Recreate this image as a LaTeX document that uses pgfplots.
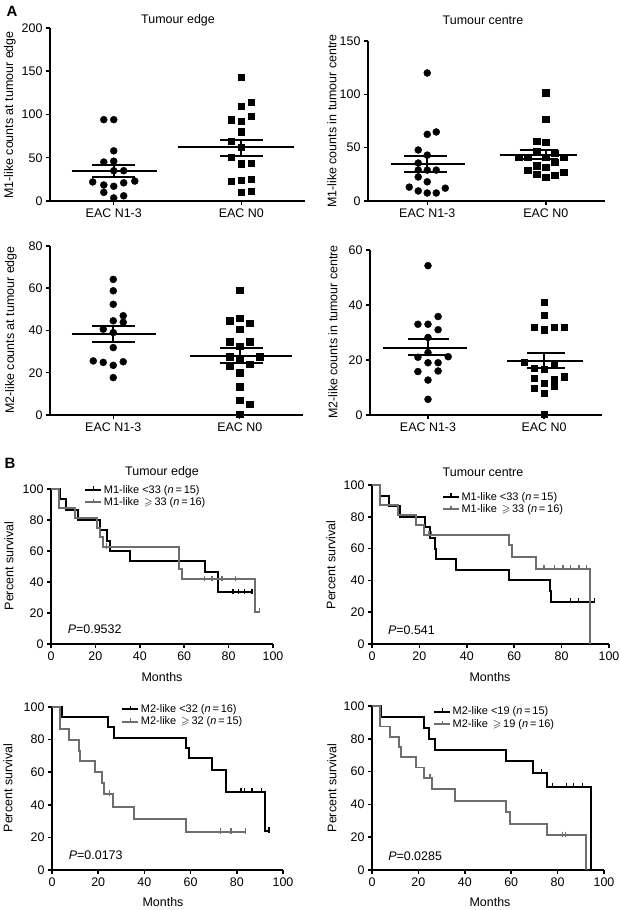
\documentclass[border=0pt]{standalone}
\usepackage{amssymb}
\usepackage{fontspec}
\setmainfont{Liberation Sans}
\usepackage{pgfplots}
\pgfplotsset{compat=1.18}
\definecolor{kmgray}{RGB}{110,110,110}
\newcommand{\lab}{\fontsize{12.5}{14}\selectfont}
\newcommand{\legf}{\fontsize{11}{12}\selectfont}
\pgfplotsset{
  base/.style={
    scale only axis, clip=false,
    axis lines=left,
    axis line style={-, line width=1.9pt, black},
    every tick/.style={black, line width=1.5pt},
    tick align=outside,
    major tick length=4bp,
    /pgf/number format/assume math mode=true,
    ticklabel style={font=\fontsize{12.5}{14}\selectfont},
    anchor=south west,
  },
  scat/.style={base, xmin=-0.5, xmax=1.5, xtick={0,1},
    xticklabels={EAC N1-3, EAC N0}, ymin=0},
  km/.style={base, xmin=0, xmax=100, ymin=0, ymax=100,
    xtick={0,20,...,100}, ytick={0,20,...,100},
    legend cell align=left,
    legend image code/.code={\draw[##1, line width=2pt] (0bp,0bp) -- (16bp,0bp);
       \draw[##1, line width=1.3pt] (8bp,0bp) -- (8bp,3.5bp);},
    legend style={draw=none, fill=none, inner sep=0pt, font=\legf,
       nodes={inner sep=1.5pt}, row sep=0pt, anchor=north west}},
  circ/.style={only marks, mark=*, mark size=3.5bp, black},
  sq/.style={only marks, mark=square*, mark size=3.1bp, black},
  ml/.style={black, line width=2pt, forget plot},
  kb/.style={black, line width=2pt, const plot, mark=none},
  kg/.style={kmgray, line width=2pt, const plot, mark=none},
  cb/.style={black, only marks, mark=|, mark size=2.7bp, mark options={line width=1.3pt, yshift=1bp}, forget plot},
  cg/.style={kmgray, only marks, mark=|, mark size=2.7bp, mark options={line width=1.3pt, yshift=1bp}, forget plot},
}
\begin{document}
\begin{tikzpicture}
\useasboundingbox (0,0) rectangle (620bp,910bp);
% ---------------- Panel A1
\begin{axis}[scat, at={(50bp,709bp)}, width=255bp, height=173bp, ymax=200, ytick={0,50,...,200}]
\addplot[circ] coordinates {(-0.078,94)(0,94)(0,58)(-0.078,45)(0,46)(0,35)(0.078,35)(-0.165,22)(-0.078,18.5)(0,17)(0.078,21)(0.165,23)(-0.078,10)(0,3.5)(0.078,6)};
\addplot[sq] coordinates {(1,143)(1.078,114.5)(1,110)(0.922,94)(1,92.5)(1.078,98)(1,80)(0.922,69)(1,62.5)(0.922,51)(1,43)(1.078,44)(0.922,23)(1,24)(1.078,25)(1,10.5)(1.078,11.5)};
\addplot[ml] coordinates {(-0.33,35)(0.34,35)};
\addplot[ml] coordinates {(-0.17,42)(0.17,42)};
\addplot[ml] coordinates {(-0.17,28)(0.17,28)};
\addplot[ml] coordinates {(0,28)(0,42)};
\addplot[ml] coordinates {(0.5,62)(1.41,62)};
\addplot[ml] coordinates {(0.83,71)(1.17,71)};
\addplot[ml] coordinates {(0.83,52.5)(1.17,52.5)};
\addplot[ml] coordinates {(1,52.5)(1,71)};
\end{axis}
% ---------------- Panel A2
\begin{axis}[scat, at={(368bp,709bp)}, width=237bp, height=160bp, ymax=150, ytick={0,50,100,150}]
\addplot[circ] coordinates {(0,120)(0,62.5)(0.076,64.7)(-0.076,47.8)(0,43)(-0.076,35.6)(-0.076,29)(0,29)(0.076,29)(-0.076,22.5)(0,18)(-0.152,13)(-0.076,9.4)(0,7.5)(0.076,7.5)(0.152,12)};
\addplot[sq] coordinates {(1,101.5)(1,77)(0.924,56)(1,55)(0.924,47)(1.076,45)(0.772,41)(0.848,41)(1,41)(1.152,41)(0.924,33)(1,32)(1.076,36)(0.848,29)(0.924,25)(1,22.5)(1.076,24)(1.152,27)};
\addplot[ml] coordinates {(-0.31,35)(0.32,35)};
\addplot[ml] coordinates {(-0.2,42.5)(0.17,42.5)};
\addplot[ml] coordinates {(-0.2,27.5)(0.17,27.5)};
\addplot[ml] coordinates {(0,27.5)(0,42.5)};
\addplot[ml] coordinates {(0.61,43)(1.26,43)};
\addplot[ml] coordinates {(0.78,48)(1.1,48)};
\addplot[ml] coordinates {(0.78,39)(1.1,39)};
\addplot[ml] coordinates {(1,39)(1,48)};
\end{axis}
% ---------------- Panel A3
\begin{axis}[scat, at={(50bp,495bp)}, width=253bp, height=169bp, ymax=80, ytick={0,20,...,80}]
\addplot[circ] coordinates {(0,64.2)(0,58.8)(0,52.4)(0.079,47)(0,44.6)(0.079,43.9)(-0.079,40.6)(0,39)(0,31.9)(-0.158,25.6)(-0.079,24.9)(0.079,25.2)(0,23.5)(0,17.7)};
\addplot[sq] coordinates {(1,59)(0.921,44.6)(1,46)(1.079,43.4)(1,40.5)(0.921,34.7)(1.079,34.7)(1,32.6)(0.921,27.6)(1,26.8)(1.158,27.6)(0.921,23.3)(1.079,24)(1,20)(1,13.4)(1,7)(1.079,5)(1,0.3)};
\addplot[ml] coordinates {(-0.33,38.5)(0.34,38.5)};
\addplot[ml] coordinates {(-0.17,42.3)(0.17,42.3)};
\addplot[ml] coordinates {(-0.17,34.7)(0.17,34.7)};
\addplot[ml] coordinates {(0,34.7)(0,42.3)};
\addplot[ml] coordinates {(0.61,28)(1.41,28)};
\addplot[ml] coordinates {(0.84,31.9)(1.18,31.9)};
\addplot[ml] coordinates {(0.84,24.8)(1.18,24.8)};
\addplot[ml] coordinates {(1,24.8)(1,31.9)};
\end{axis}
% ---------------- Panel A4
\begin{axis}[scat, at={(370bp,495bp)}, width=232bp, height=165bp, ymax=60, ytick={0,20,40,60}]
\addplot[circ] coordinates {(0,54.3)(0.087,35.8)(-0.087,33)(0,33)(0.087,31)(0,28.2)(0,22.7)(-0.087,21)(0.174,21.2)(0,19)(0.087,19)(-0.087,15.8)(0.087,16)(0,12.7)(0,5.7)};
\addplot[sq] coordinates {(1,41)(1,36.4)(0.913,32)(1,31)(1.087,32)(1.174,32)(0.826,19.3)(0.913,17)(1,16.7)(1.087,18.2)(0.913,13.5)(1,11.6)(1.087,13)(1.174,13.9)(0.913,9.8)(1.087,10.6)(1,8)(1,0.2)};
\addplot[ml] coordinates {(-0.39,24.5)(0.34,24.5)};
\addplot[ml] coordinates {(-0.17,27.5)(0.18,27.5)};
\addplot[ml] coordinates {(-0.17,21.7)(0.18,21.7)};
\addplot[ml] coordinates {(0,21.7)(0,27.5)};
\addplot[ml] coordinates {(0.68,19.6)(1.34,19.6)};
\addplot[ml] coordinates {(0.85,22.5)(1.18,22.5)};
\addplot[ml] coordinates {(0.85,17)(1.18,17)};
\addplot[ml] coordinates {(1,17)(1,22.5)};
\end{axis}
% ---------------- Panel B1
\begin{axis}[km, at={(51bp,266bp)}, width=222bp, height=155bp, legend style={at={(axis cs:15,103.5)}}]
\addplot[kb] coordinates {(0,100)(4.2,93.3)(6.9,86.7)(12,80)(21.9,73.3)(25.4,66.7)(26.6,60)(35.6,53.3)(69.3,46.7)(75.3,33.3)(90.8,33.3)};
\addlegendentry{M1-like <33 (\textit{n}\,=\,15)}
\addplot[kg] coordinates {(0,100)(3.4,87.5)(10.9,81.25)(20.7,75)(22,68.75)(23.6,62.5)(57.6,48.6)(58.9,41.7)(91.8,20.8)(94,20.8)};
\addlegendentry{M1-like \,$\geqslant$\,33 (\textit{n}\,=\,16)}
\addplot[cb] coordinates {(82,33.3)(84.3,33.3)(87.3,33.3)(90.5,33.3)};
\addplot[cg] coordinates {(25,62.5)(69.2,41.7)(72.5,41.7)(77,41.7)(83,41.7)(94,20.8)};
\node[anchor=west, font=\lab] at (axis cs:6,9.5) {\textit{P}=0.9532};
\end{axis}
% ---------------- Panel B2
\begin{axis}[km, at={(372bp,266bp)}, width=237bp, height=159bp, legend style={at={(axis cs:29.5,96.5)}}]
\addplot[kb] coordinates {(0,100)(3.5,93.3)(7.2,86.7)(12,80)(22.2,73.3)(24.3,66.7)(26.4,60)(27,53.3)(35.6,46.7)(57.8,40)(75,33.3)(75.5,26.7)(94,26.7)};
\addlegendentry{M1-like <33 (\textit{n}\,=\,15)}
\addplot[kg] coordinates {(0,100)(3.5,87.5)(11.1,81.25)(18.7,75)(21.8,68.75)(57.8,62.5)(59.2,54.7)(69.3,47.3)(92.1,0)};
\addlegendentry{M1-like \,$\geqslant$\,33 (\textit{n}\,=\,16)}
\addplot[cb] coordinates {(83.7,26.7)(87,26.7)(94,26.7)};
\addplot[cg] coordinates {(24,68.75)(25,68.75)(72.6,47.3)(77,47.3)(80.6,47.3)(83.7,47.3)(87.3,47.3)(90.4,47.3)};
\node[anchor=west, font=\lab] at (axis cs:5.3,8.8) {\textit{P}=0.541};
\end{axis}
% ---------------- Panel B3
\begin{axis}[km, at={(52bp,40bp)}, width=231bp, height=163bp, legend style={at={(axis cs:30,102.5)}}]
\addplot[kb] coordinates {(0,100)(4.3,93.75)(24.1,87.5)(27,81.25)(58.2,75)(59.2,68.75)(69.4,61.6)(75.5,48)(92.4,24)(94,24)};
\addlegendentry{M2-like <32 (\textit{n}\,=\,16)}
\addplot[kg] coordinates {(0,100)(3.3,86.7)(7.5,80)(11.5,73.3)(12.3,66.7)(18.8,60)(21.6,53.3)(22.4,46.7)(26.4,38.9)(35.4,31.1)(58,23.3)(84,23.3)};
\addlegendentry{M2-like \,$\geqslant$\,32 (\textit{n}\,=\,15)}
\addplot[cb] coordinates {(81.8,48)(83.4,48)(86.6,48)(90.6,48)(94,24)};
\addplot[cg] coordinates {(25,46.7)(72.9,23.3)(77.5,23.3)(83.7,23.3)};
\node[anchor=west, font=\lab] at (axis cs:5.8,9.2) {\textit{P}=0.0173};
\end{axis}
% ---------------- Panel B4
\begin{axis}[km, at={(372bp,40bp)}, width=232bp, height=164bp, legend style={at={(axis cs:26.3,100.5)}}]
\addplot[kb] coordinates {(0,100)(4,93.3)(22.4,86.7)(24.6,80)(27,73.3)(57.7,66.7)(69.5,59.3)(75.5,50.8)(94.2,0)};
\addlegendentry{M2-like <19 (\textit{n}\,=\,15)}
\addplot[kg] coordinates {(0,100)(3.3,87.5)(7.6,81.25)(11.7,75)(12.5,68.75)(19.1,62.5)(22.3,56.25)(25.9,49.2)(35.8,42.2)(57.7,35.2)(59.4,28.1)(75.5,21.1)(92.1,0)};
\addlegendentry{M2-like \,$\geqslant$\,19 (\textit{n}\,=\,16)}
\addplot[cb] coordinates {(73,59.3)(77.7,50.8)(83.9,50.8)(86.8,50.8)(90.8,50.8)};
\addplot[cg] coordinates {(25,56.25)(82.2,21.1)(83.5,21.1)};
\node[anchor=west, font=\lab] at (axis cs:5.5,8.7) {\textit{P}=0.0285};
\end{axis}
% ---------------- Text outside axes
\node[font=\fontsize{15}{17}\selectfont\bfseries] at (12bp,899bp) {A};
\node[font=\fontsize{15}{17}\selectfont\bfseries] at (10bp,447bp) {B};
\node[font=\lab] at (178bp,890bp) {Tumour edge};
\node[font=\lab] at (483bp,890bp) {Tumour centre};
\node[font=\lab] at (162bp,438bp) {Tumour edge};
\node[font=\lab] at (483bp,438bp) {Tumour centre};
\node[font=\lab, rotate=90] at (10bp,795bp) {M1-like counts at tumour edge};
\node[font=\lab, rotate=90] at (332bp,789bp) {M1-like counts in tumour centre};
\node[font=\lab, rotate=90] at (11bp,580bp) {M2-like counts at tumour edge};
\node[font=\lab, rotate=90] at (333bp,578bp) {M2-like counts in tumour centre};
\node[font=\lab, rotate=90] at (9bp,344bp) {Percent survival};
\node[font=\lab, rotate=90] at (331bp,345bp) {Percent survival};
\node[font=\lab, rotate=90] at (8bp,122bp) {Percent survival};
\node[font=\lab, rotate=90] at (332bp,122bp) {Percent survival};
\node[font=\lab] at (162bp,233bp) {Months};
\node[font=\lab] at (490bp,233bp) {Months};
\node[font=\lab] at (163bp,8bp) {Months};
\node[font=\lab] at (490bp,8bp) {Months};
\end{tikzpicture}
\end{document}
